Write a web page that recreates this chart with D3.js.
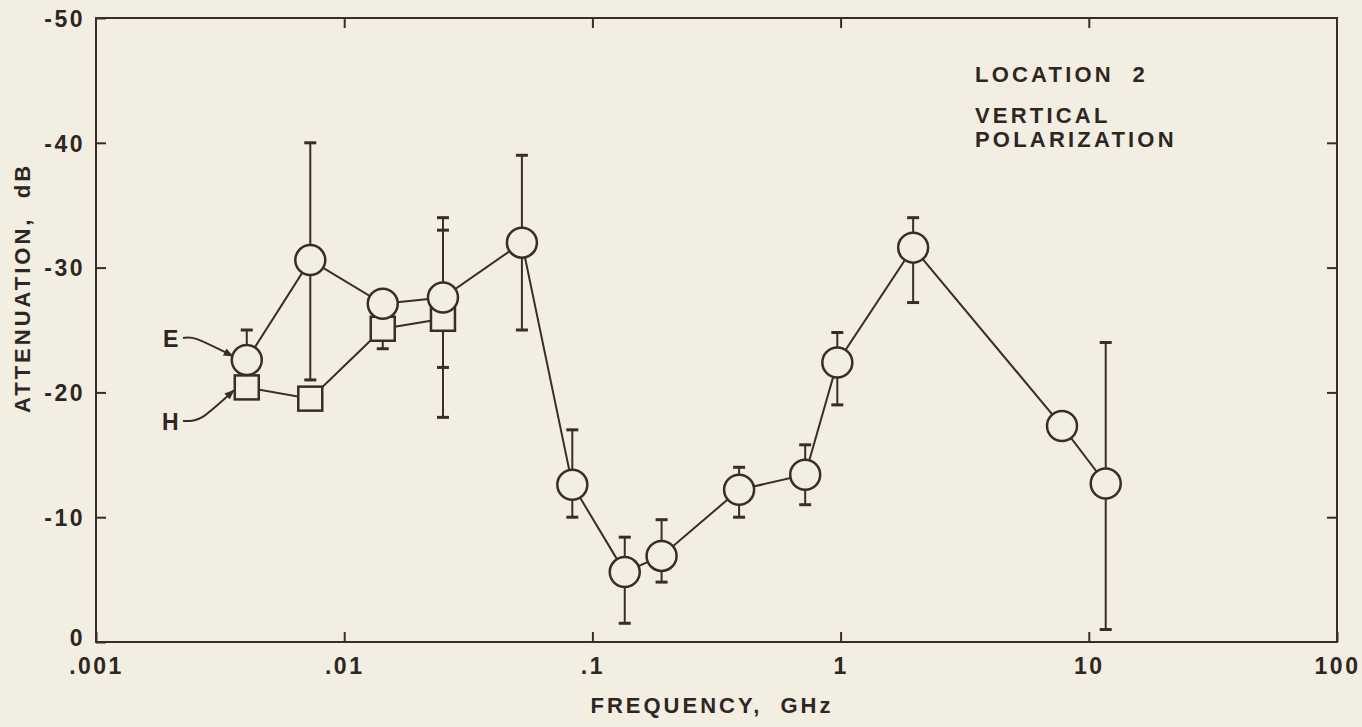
<html>
<head>
<script src="https://cdnjs.cloudflare.com/ajax/libs/d3/7.8.5/d3.min.js"></script>
<style>
  body { margin:0; background:#f3eee2; }
  svg text { font-family:"Liberation Sans", Arial, sans-serif; font-weight:bold; fill:#2f2624; white-space:pre; }
  .frame { fill:none; stroke:#3a2c2a; stroke-width:2px; }
  .line { fill:none; stroke:#3a2c2a; stroke-width:2px; }
  .err { stroke:#3a2c2a; stroke-width:2px; }
  .cap { stroke:#3a2c2a; stroke-width:3px; }
  .mark { fill:#f3eee2; stroke:#3a2c2a; stroke-width:2.5px; }
</style>
</head>
<body>
<script>
// E field points (circles)
var freqE = [0.00405, 0.0073, 0.0143, 0.025, 0.052, 0.083, 0.135, 0.19, 0.39, 0.72, 0.97, 1.96, 7.8, 11.7];
var attE  = [-22.6, -30.6, -27.1, -27.6, -32.0, -12.6, -5.6, -6.9, -12.2, -13.4, -22.4, -31.6, -17.3, -12.7];
var errTopE = [-25, -40, null, -34, -39, -17, -8.4, -9.8, -14, -15.8, -24.8, -34, null, -24];
var errBotE = [null, -21, null, -22, -25, -10, -1.5, -4.8, -10, -11, -19, -27.2, null, -1];

// H field points (squares)
var freqH = [0.00405, 0.0073, 0.0143, 0.025];
var attH  = [-20.4, -19.5, -25.1, -25.9];
var errTopH = [null, null, null, -33];
var errBotH = [null, null, -23.5, -18];

var xTicks = [0.001, 0.01, 0.1, 1, 10, 100];
var xTickLabels = [".001", ".01", ".1", "1", "10", "100"];
var yTicks = [0, -10, -20, -30, -40, -50];

var margin = {top:18, left:96, right:25, bottom:85},
    width = 1362 - margin.left - margin.right,
    height = 727 - margin.top - margin.bottom;

var x = d3.scaleLog().domain([0.001, 100]).range([0, width]);
var y = d3.scaleLinear().domain([0, -50]).range([height, 0]);

var svg = d3.select("body").append("svg")
  .attr("width", 1362).attr("height", 727);
var g = svg.append("g").attr("transform", "translate(" + margin.left + "," + margin.top + ")");

// axes
var axL = g.append("g").call(d3.axisLeft(y).tickValues(yTicks).tickSizeInner(-10).tickSizeOuter(0).tickPadding(11).tickFormat(function(d){ return String(d); }));
var axR = g.append("g").attr("transform", "translate(" + width + ",0)")
  .call(d3.axisRight(y).tickValues(yTicks.slice(1, 5)).tickSizeInner(-10).tickSizeOuter(0).tickFormat(""));
var axB = g.append("g").attr("transform", "translate(0," + height + ")")
  .call(d3.axisBottom(x).tickValues(xTicks).tickSizeInner(-10).tickSizeOuter(0).tickPadding(16)
    .tickFormat(function(d, i){ return xTickLabels[i]; }));
var axT = g.append("g")
  .call(d3.axisTop(x).tickValues(xTicks.slice(1, 5)).tickSizeInner(-10).tickSizeOuter(0).tickFormat(""));

g.selectAll(".domain").remove();
g.selectAll(".tick line").attr("stroke", "#3a2c2a").attr("stroke-width", 2);
g.selectAll(".tick text").style("font-size", "23px").style("letter-spacing", "2.5px").attr("fill", "#2f2624");
axL.selectAll(".tick text").attr("dy", function(d){ return d === 0 ? "0.15em" : "0.36em"; });

g.append("rect").attr("class", "frame").attr("width", width).attr("height", height);

// error bars
function errBars(fr, at, top, bot) {
  fr.forEach(function(f, i) {
    [top[i], bot[i]].forEach(function(e) {
      if (e === null) return;
      g.append("line").attr("class", "err")
        .attr("x1", x(f)).attr("x2", x(f)).attr("y1", y(at[i])).attr("y2", y(e));
      g.append("line").attr("class", "cap")
        .attr("x1", x(f) - 6).attr("x2", x(f) + 6).attr("y1", y(e)).attr("y2", y(e));
    });
  });
}
errBars(freqE, attE, errTopE, errBotE);
errBars(freqH, attH, errTopH, errBotH);

var line = d3.line().x(function(d){ return x(d[0]); }).y(function(d){ return y(d[1]); });
var dataE = d3.zip(freqE, attE), dataH = d3.zip(freqH, attH);

g.append("path").datum(dataH).attr("class", "line").attr("d", line);
g.append("path").datum(dataE).attr("class", "line").attr("d", line);

g.selectAll(".sq").data(dataH).enter().append("rect").attr("class", "mark")
  .attr("x", function(d){ return x(d[0]) - 12; }).attr("y", function(d){ return y(d[1]) - 12; })
  .attr("width", 24).attr("height", 24);
g.selectAll(".ci").data(dataE).enter().append("circle").attr("class", "mark")
  .attr("cx", function(d){ return x(d[0]); }).attr("cy", function(d){ return y(d[1]); })
  .attr("r", 15);

// E / H pointers
svg.append("defs").append("marker").attr("id", "arr").attr("viewBox", "0 0 10 10")
  .attr("refX", 9).attr("refY", 5).attr("markerWidth", 5).attr("markerHeight", 5).attr("orient", "auto")
  .append("path").attr("d", "M0,1 L10,5 L0,9 z").attr("fill", "#3a2c2a");

var ex = x(freqE[0]), ey = y(attE[0]);
svg.append("text").attr("x", 163).attr("y", 347).style("font-size", "23px").text("E");
svg.append("path").attr("class", "line").attr("marker-end", "url(#arr)")
  .attr("d", "M183,338 C195,336 200,340 " + (margin.left + ex - 14) + "," + (margin.top + ey - 4));
var hx = x(freqH[0]), hy = y(attH[0]);
svg.append("text").attr("x", 162).attr("y", 430).style("font-size", "23px").text("H");
svg.append("path").attr("class", "line").attr("marker-end", "url(#arr)")
  .attr("d", "M183,421 C200,422 203,418 " + (margin.left + hx - 13) + "," + (margin.top + hy + 3));

// annotations
svg.append("text").attr("x", 975).attr("y", 82).style("font-size", "22px").style("letter-spacing", "3.2px").text("LOCATION  2");
svg.append("text").attr("x", 975).attr("y", 123).style("font-size", "22px").style("letter-spacing", "3.2px").text("VERTICAL");
svg.append("text").attr("x", 975).attr("y", 147).style("font-size", "22px").style("letter-spacing", "3.2px").text("POLARIZATION");

svg.append("text").attr("x", 712).attr("y", 713).attr("text-anchor", "middle")
  .style("font-size", "22px").style("letter-spacing", "3px").text("FREQUENCY,  GHz");
svg.append("text").attr("transform", "translate(30,288) rotate(-90)").attr("text-anchor", "middle")
  .style("font-size", "22px").style("letter-spacing", "3px").text("ATTENUATION,  dB");
</script>
</body>
</html>
